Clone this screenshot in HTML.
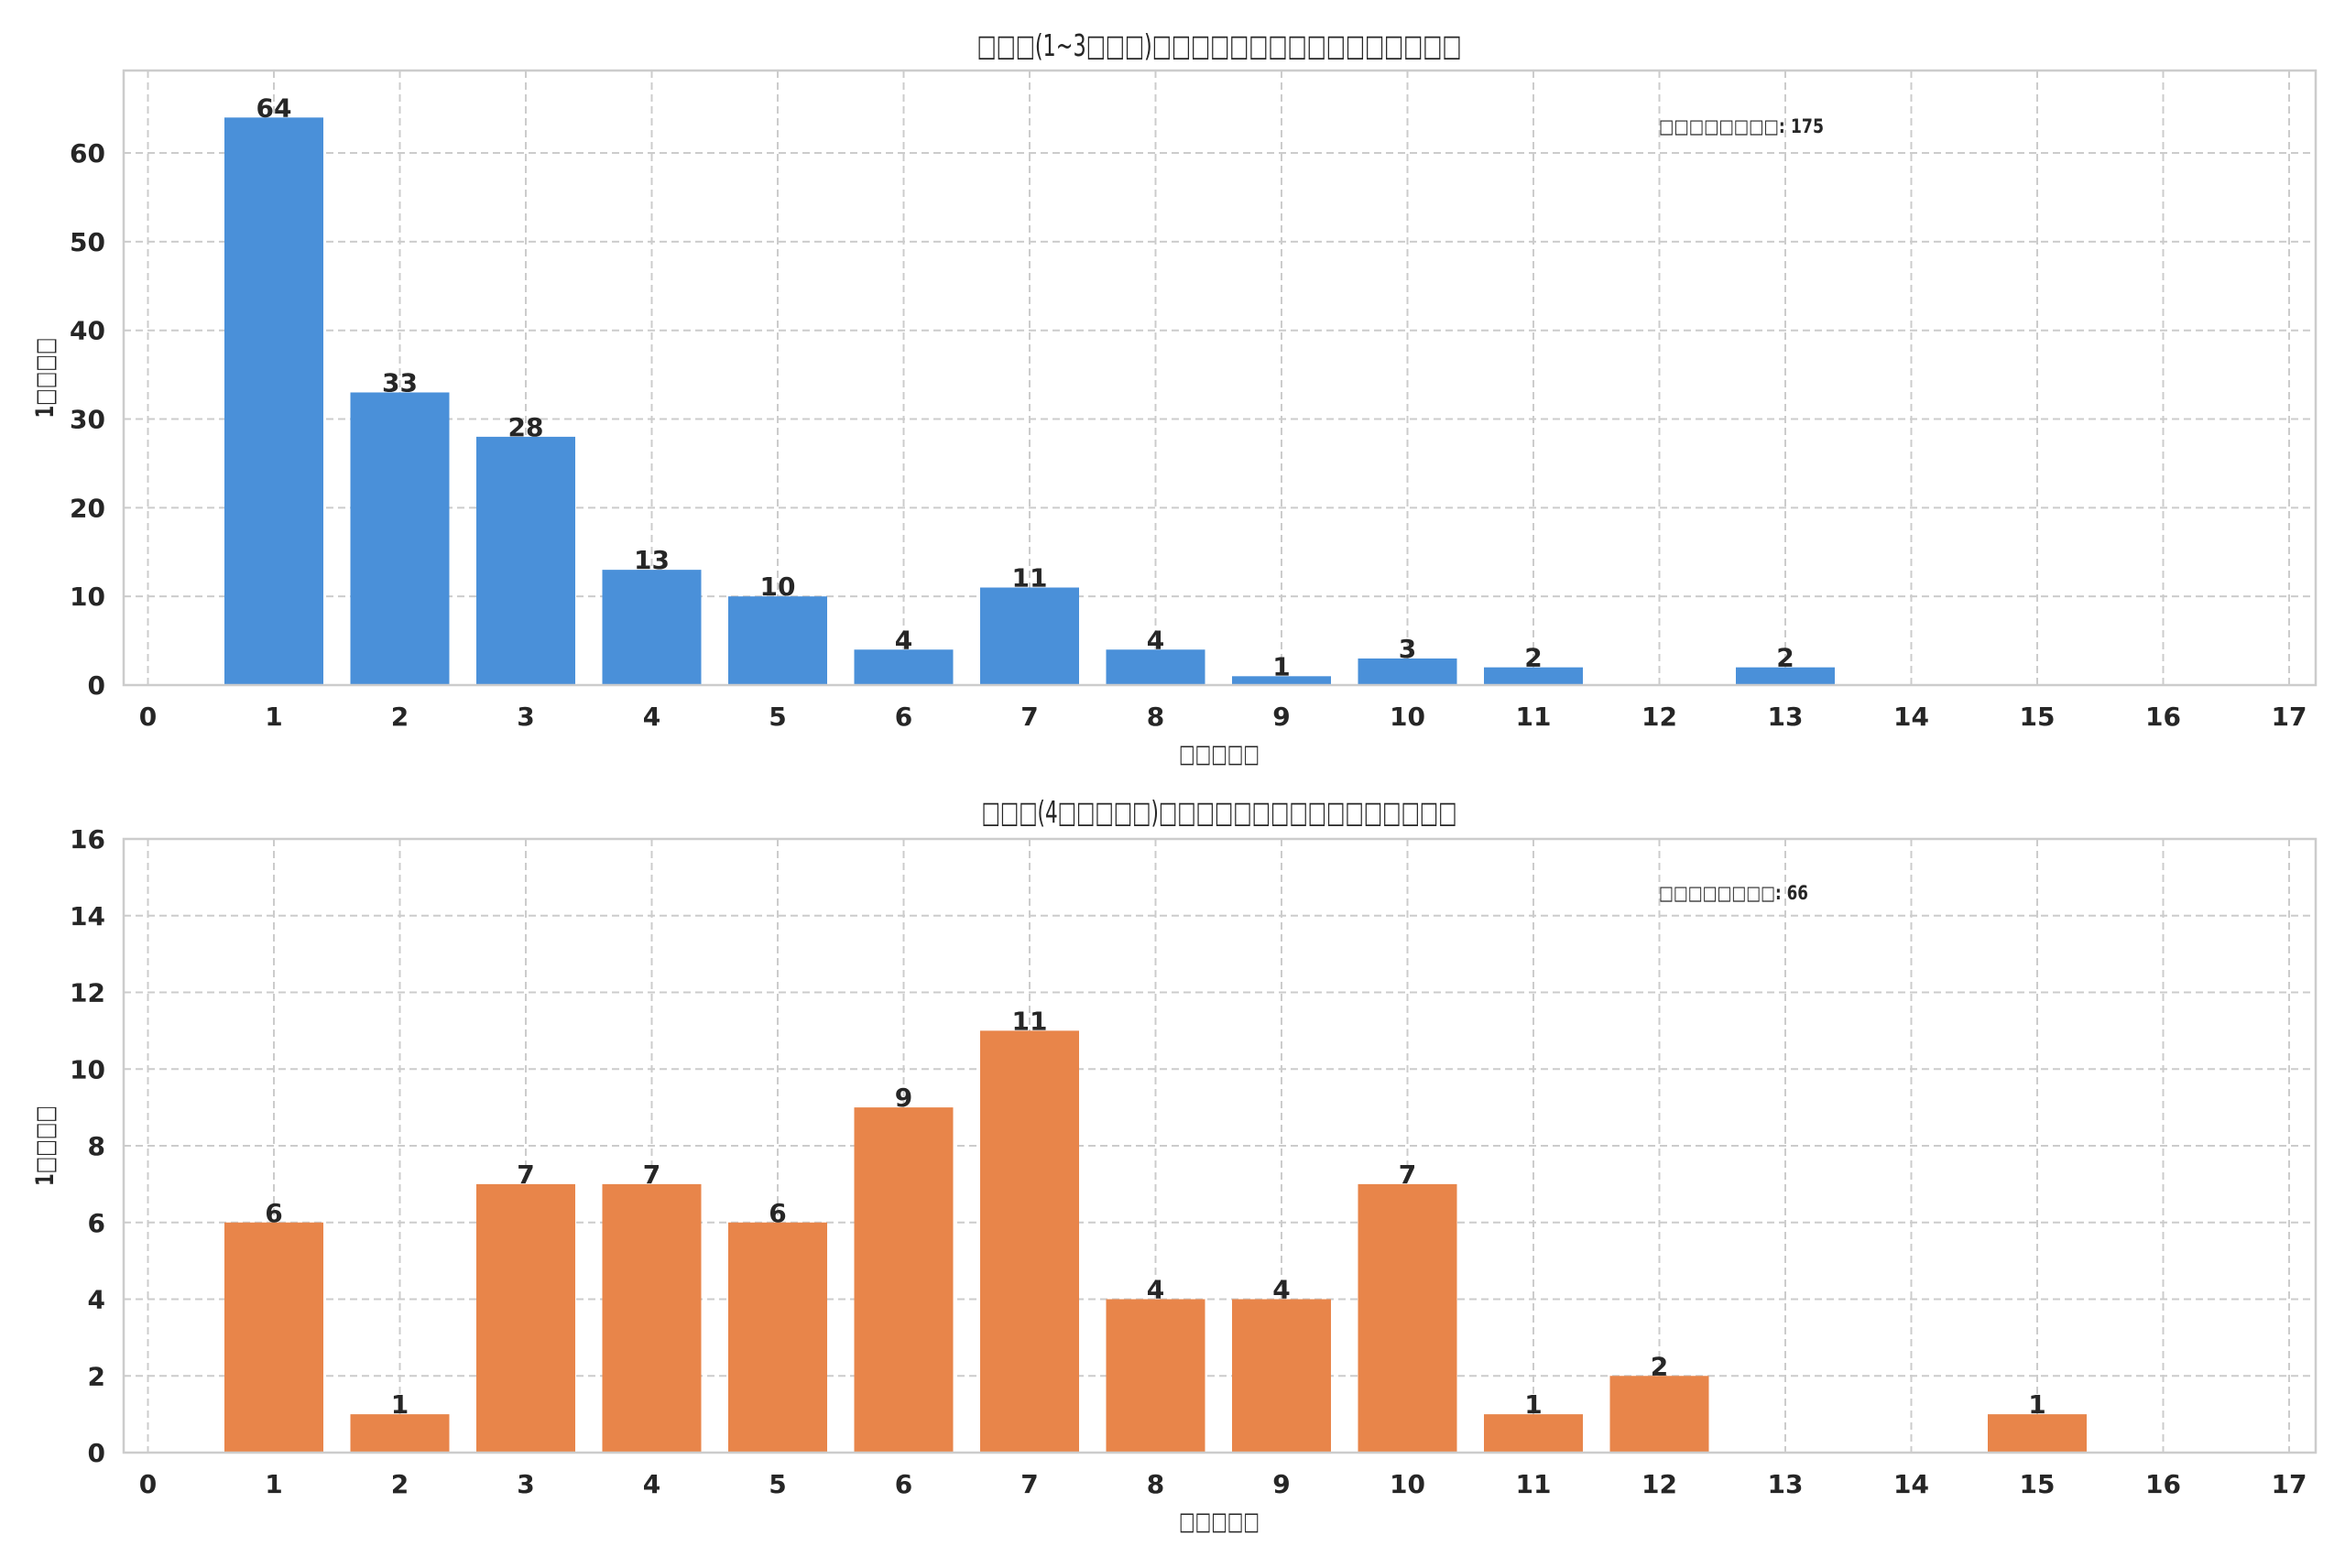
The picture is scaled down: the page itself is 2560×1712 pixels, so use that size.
<!DOCTYPE html>
<html><head><meta charset="utf-8"><style>
html,body{margin:0;padding:0;background:#fff;}
svg text{font-family:"DejaVu Sans","Liberation Sans","Noto Sans CJK JP",sans-serif;fill:#262626;}
</style></head><body>
<svg id="s" width="2560" height="1707" xmlns="http://www.w3.org/2000/svg"></svg>
<script>
const s=document.getElementById('s');let h='';
function chart(top,bot,ymax,step,data,color,title,titleY,titleW,xlY,ann,annY,annW){
  const L=135,R=2528,x0=161.5,dx=137.5;
  const Y=v=>bot-(bot-top)*v/ymax;
  for(let i=0;i<=17;i++){const x=x0+i*dx;
    h+=`<line x1="${x}" y1="${top}" x2="${x}" y2="${bot}" stroke="#cccccc" stroke-width="2" stroke-dasharray="8,5"/>`;
    h+=`<text x="${x}" y="${bot+44}" font-size="28" font-weight="bold" text-anchor="middle">${i}</text>`;}
  for(let v=0;v<=ymax;v+=step){const y=Y(v);
    if(v>0)h+=`<line x1="${L}" y1="${y}" x2="${R}" y2="${y}" stroke="#cccccc" stroke-width="2" stroke-dasharray="8,5"/>`;
    h+=`<text x="${L-20}" y="${y+10}" font-size="28" font-weight="bold" text-anchor="end">${v}</text>`;}
  data.forEach(([k,v])=>{const x=x0+k*dx;
    h+=`<rect x="${x-54}" y="${Y(v)}" width="108" height="${bot-Y(v)}" fill="${color}"/>`;
    h+=`<text x="${x}" y="${Y(v)-1}" font-size="28" font-weight="bold" text-anchor="middle">${v}</text>`;});
  h+=`<rect x="${L}" y="${top}" width="${R-L}" height="${bot-top}" fill="none" stroke="#cccccc" stroke-width="2.5"/>`;
  h+=`<text x="1331" y="${titleY}" font-size="33" text-anchor="middle" textLength="${titleW}" lengthAdjust="spacingAndGlyphs">${title}</text>`;
  h+=`<text x="1331" y="${xlY}" font-size="27" text-anchor="middle" textLength="88" lengthAdjust="spacingAndGlyphs">□□□□□</text>`;
  h+=`<text transform="translate(58,${(top+bot)/2}) rotate(-90)" font-size="27" font-weight="bold" text-anchor="middle" textLength="88" lengthAdjust="spacingAndGlyphs">1□□□□</text>`;
  h+=`<text x="1811" y="${annY}" font-size="21" font-weight="bold" textLength="${annW}" lengthAdjust="spacingAndGlyphs">□□□□□□□□: ${ann}</text>`;
}
chart(77,748,69.3,10,[[1,64],[2,33],[3,28],[4,13],[5,10],[6,4],[7,11],[8,4],[9,1],[10,3],[11,2],[13,2]],'#4a90d9','□□□(1~3□□□)□□□□□□□□□□□□□□□□',61,529,832,175,145,180);
chart(916,1586,16,2,[[1,6],[2,1],[3,7],[4,7],[5,6],[6,9],[7,11],[8,4],[9,4],[10,7],[11,1],[12,2],[15,1]],'#e8854a','□□□(4□□□□□)□□□□□□□□□□□□□□□□',898,519,1670,66,982,163);
s.innerHTML=h;
</script>
</body></html>
